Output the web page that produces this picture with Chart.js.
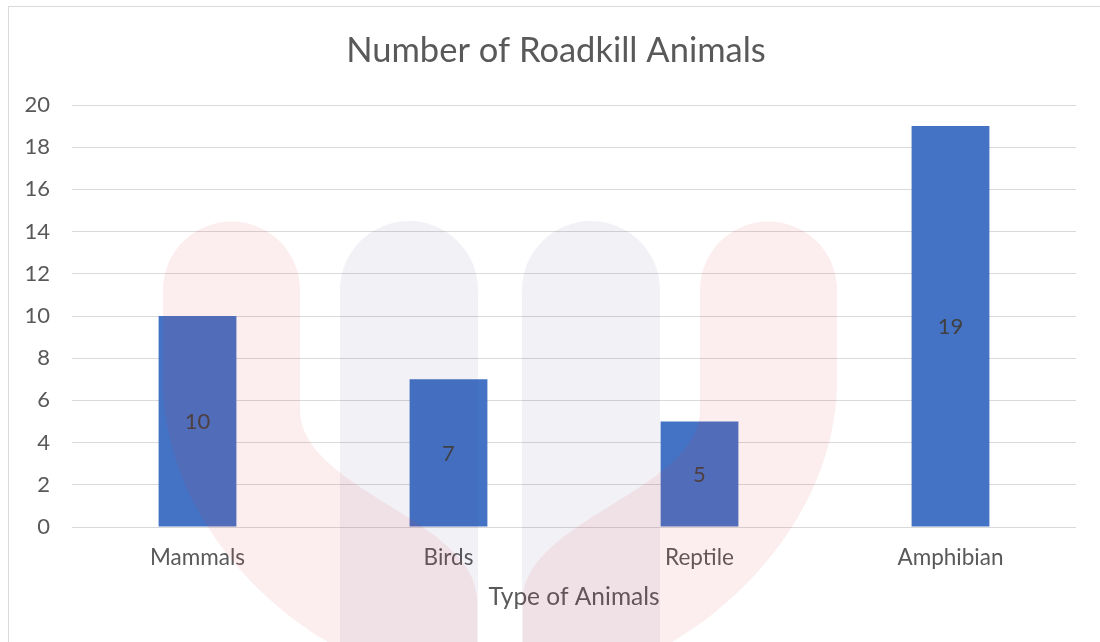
<!DOCTYPE html>
<html>
<head>
<meta charset="utf-8">
<script src="https://cdn.jsdelivr.net/npm/chart.js@4/dist/chart.umd.min.js"></script>
<style>
  html, body { margin: 0; padding: 0; background: #fff; }
  #wrap { position: relative; width: 1100px; height: 642px; overflow: hidden; }
  #frame { position: absolute; left: 8px; top: 6px; width: 1200px; height: 800px;
           border-left: 1px solid #D9D9D9; border-top: 1px solid #D9D9D9; pointer-events: none; }
  canvas { position: absolute; left: 0; top: 0; }
</style>
</head>
<body>
<div id="wrap">
  <canvas id="roadkillChart" width="1100" height="642"></canvas>
  <div id="frame"></div>
</div>
<script>
const animalTypes = ["Mammals", "Birds", "Reptile", "Amphibian"]
const roadkillCounts = [10, 7, 5, 19]
const yMin = 0
const yMax = 20
const yStep = 2

const textGrey = "#595959"
const fontName = "Lato, 'Liberation Sans', sans-serif"

// numbers written in the middle of every bar
const barLabels = {
  id: "barLabels",
  afterDatasetsDraw(chart) {
    const ctx = chart.ctx
    const meta = chart.getDatasetMeta(0)
    ctx.save()
    ctx.fillStyle = "#404040"
    ctx.font = "22px " + fontName
    ctx.textAlign = "center"
    ctx.textBaseline = "middle"
    meta.data.forEach((bar, i) => {
      const mid = (bar.y + bar.base) / 2
      ctx.fillText(String(chart.data.datasets[0].data[i]), bar.x, mid + 1)
    })
    ctx.restore()
  }
}

// faint logo that sits over the picture
const watermark = {
  id: "watermark",
  afterDraw(chart) {
    const ctx = chart.ctx
    const bottom = chart.height + 5
    const pill = (x1, x2, top) => {
      const r = (x2 - x1) / 2
      ctx.beginPath()
      ctx.moveTo(x1, bottom)
      ctx.lineTo(x1, top + r)
      ctx.arc(x1 + r, top + r, r, Math.PI, 0)
      ctx.lineTo(x2, bottom)
      ctx.closePath()
      ctx.fill()
    }
    const band = (m) => {
      const X = x => m ? 1000 - x : x
      const r = 68.5
      ctx.beginPath()
      ctx.moveTo(X(163), 290)
      if (m) ctx.arc(X(231.5), 290, r, 0, Math.PI, true)
      else ctx.arc(X(231.5), 290, r, Math.PI, 0)
      ctx.lineTo(X(300), 410)
      ctx.bezierCurveTo(X(300), 490, X(477), 520, X(477), 600)
      ctx.lineTo(X(477), bottom)
      ctx.lineTo(X(337), bottom)
      ctx.bezierCurveTo(X(250), 600, X(163), 500, X(163), 380)
      ctx.closePath()
      ctx.fill()
    }
    ctx.save()
    ctx.fillStyle = "rgba(68, 68, 130, 0.07)"
    pill(340, 478, 221)
    pill(522, 660, 221)
    ctx.fillStyle = "rgba(225, 55, 75, 0.09)"
    band(false)
    band(true)
    ctx.restore()
  }
}

const roadkillChart = document.getElementById("roadkillChart")

/* eslint-disable no-undef */
new Chart(roadkillChart, {
  type: "bar",
  data: {
    labels: animalTypes,
    datasets: [{
      label: "Number of Roadkill Animals",
      data: roadkillCounts,
      backgroundColor: "#4472C4",
      borderWidth: 0,
      categoryPercentage: 1,
      barPercentage: 0.31
    }]
  },
  options: {
    responsive: false,
    animation: false,
    layout: {
      padding: { left: 20, right: 8, top: 0, bottom: 0 }
    },
    plugins: {
      legend: { display: false },
      tooltip: { enabled: false },
      title: {
        display: true,
        text: "Number of Roadkill Animals",
        color: textGrey,
        font: { family: fontName, size: 34.5, weight: "normal" },
        padding: { top: 30, bottom: 33.6 }
      }
    },
    scales: {
      x: {
        grid: { display: false },
        border: { display: false },
        ticks: {
          color: textGrey,
          font: { family: fontName, size: 22.5 },
          padding: 9
        },
        title: {
          display: true,
          text: "Type of Animals",
          color: textGrey,
          font: { family: fontName, size: 24.5 },
          padding: { top: 0, bottom: 30 }
        },
        afterFit: scale => { scale.height = 115 }
      },
      y: {
        min: yMin,
        max: yMax,
        grid: { color: "#D9D9D9", lineWidth: 1, drawTicks: false },
        border: { display: false },
        ticks: {
          stepSize: yStep,
          color: textGrey,
          font: { family: fontName, size: 22 },
          padding: 22
        },
        afterFit: scale => { scale.width = 52 }
      },
      // empty spacer on the right so the title sits over the whole frame
      spacer: {
        type: "linear",
        position: "right",
        grid: { display: false },
        border: { display: false },
        ticks: { display: false },
        afterFit: scale => { scale.width = 16 }
      }
    }
  },
  plugins: [barLabels, watermark]
})
</script>
</body>
</html>
